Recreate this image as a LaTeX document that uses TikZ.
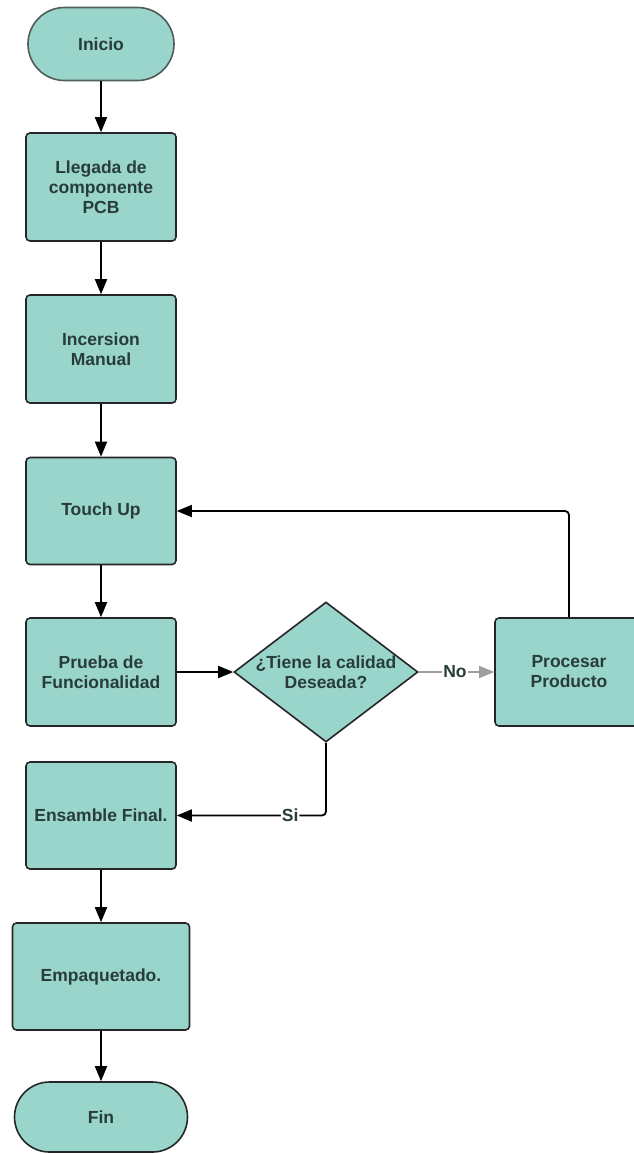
\documentclass[tikz,border=0pt]{standalone}
\usepackage{fontspec}
\setmainfont{Liberation Sans}
\usetikzlibrary{shapes.geometric,shapes.misc,arrows.meta}
\definecolor{boxfill}{HTML}{99D5CA}
\definecolor{boxdraw}{HTML}{262626}
\definecolor{startdraw}{HTML}{4E5C5A}
\definecolor{txt}{HTML}{283D3B}
\definecolor{nogray}{HTML}{9E9E9E}
\tikzset{
  base/.style={fill=boxfill, draw=boxdraw, line width=1.6pt, text=txt,
    font=\fontsize{17.5}{20}\selectfont\bfseries, align=center, inner sep=2pt},
  procbox/.style={base, rectangle, rounded corners=4pt},
  termbox/.style={base, rounded rectangle, rounded rectangle arc length=180},
  decbox/.style={base, diamond, minimum width=184pt, minimum height=140pt, inner sep=0pt},
  conn/.style={line width=1.8pt, draw=black, -{Triangle[length=15pt,width=12pt]}, rounded corners=4pt},
  noconn/.style={line width=1.4pt, draw=nogray, -{Triangle[length=15pt,width=12pt,fill=nogray]}},
  lbl/.style={fill=white, text=txt, font=\fontsize{17.5}{20}\selectfont\bfseries, inner sep=1pt}
}
\begin{document}
\begin{tikzpicture}[x=1pt,y=-1pt]
\useasboundingbox (0,0) rectangle (634,1154);
\node[termbox, draw=startdraw, minimum width=150pt, minimum height=73pt] (inicio) at (101,44) {Inicio};
\node[procbox, minimum width=150pt, minimum height=108pt] (llegada) at (101,187) {Llegada de\\componente\\PCB};
\node[procbox, minimum width=150pt, minimum height=108pt] (incersion) at (101,349) {Incersion\\Manual};
\node[procbox, minimum width=150pt, minimum height=107pt] (touch) at (101,511) {Touch Up};
\node[procbox, minimum width=150pt, minimum height=108pt] (prueba) at (101,672) {Prueba de\\Funcionalidad};
\node[decbox, label={[text=txt, font=\fontsize{17.5}{20}\selectfont\bfseries, align=center, inner sep=0pt]center:{¿Tiene la calidad\\Deseada?}}] (dec) at (326,672) {};
\node[procbox, minimum width=148pt, minimum height=108pt] (procesar) at (569,672) {Procesar\\Producto};
\node[procbox, minimum width=150pt, minimum height=107pt] (ensamble) at (101,815.5) {Ensamble Final.};
\node[procbox, minimum width=177pt, minimum height=107pt] (empaq) at (101,976.5) {Empaquetado.};
\node[termbox, minimum width=177pt, minimum height=70pt] (fin) at (101,1117) {Fin};

\draw[conn] (inicio.south) -- (llegada.north);
\draw[conn] (llegada.south) -- (incersion.north);
\draw[conn] (incersion.south) -- (touch.north);
\draw[conn] (touch.south) -- (prueba.north);
\draw[conn] (prueba.east) -- (dec.west);
\draw[noconn] (dec.east) -- node[lbl, pos=0.48] {No} (procesar.west);
\draw[conn] (procesar.north) |- (touch.east);
\draw[conn] (dec.south) |- node[lbl, pos=0.62] {Si} (ensamble.east);
\draw[conn] (ensamble.south) -- (empaq.north);
\draw[conn] (empaq.south) -- (fin.north);
\end{tikzpicture}
\end{document}
